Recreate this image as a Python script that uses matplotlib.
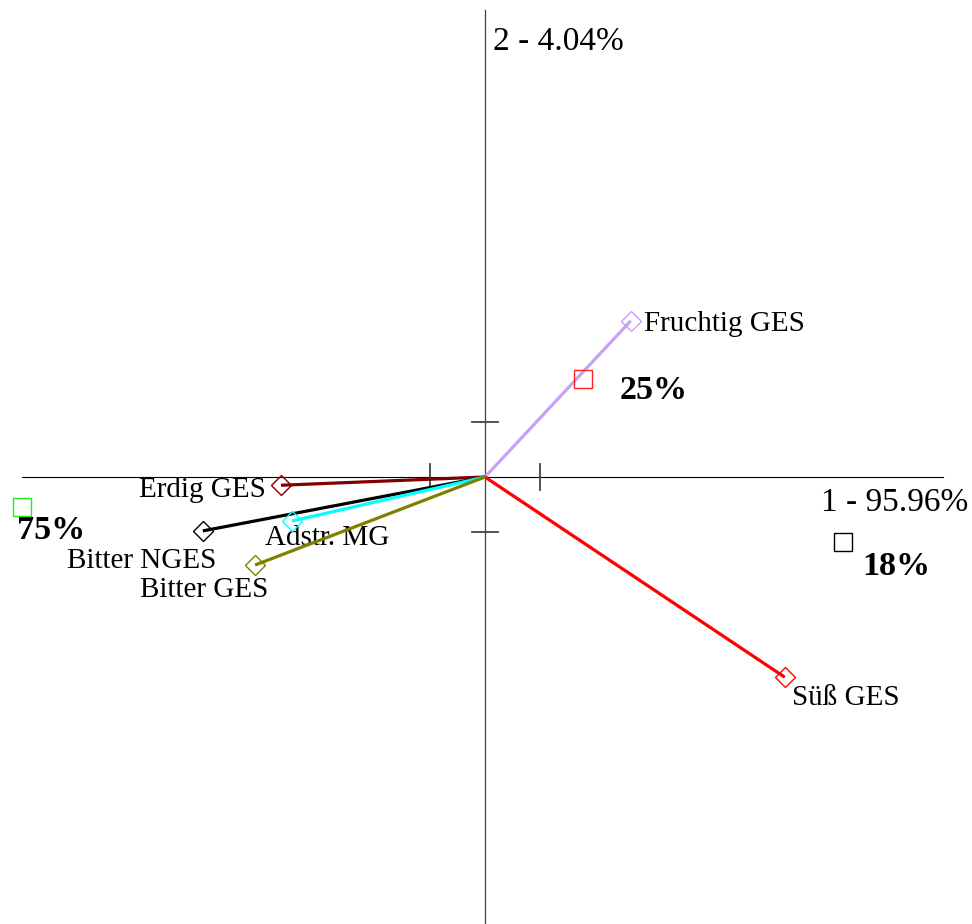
import numpy as np
import matplotlib.pyplot as plt

plt.rcParams['font.family'] = ['Liberation Serif', 'DejaVu Serif']

# loadings of the sensory attributes (unit = one tick)
var_names = ['Fruchtig GES', 'Süß GES', 'Erdig GES', 'Bitter NGES', 'Adstr. MG', 'Bitter GES']
var_x = [2.65, 5.45, -3.71, -5.13, -3.51, -4.18]
var_y = [2.84, -3.64, -0.15, -0.98, -0.80, -1.60]
var_colors = ['#c8a0f8', '#ff0000', '#800000', '#000000', '#00ffff', '#808000']

# group scores with their shares
grp_labels = ['75%', '25%', '18%']
grp_x = [-8.42, 1.78, 6.51]
grp_y = [-0.55, 1.78, -1.18]
grp_colors = ['#22ee22', '#ff2020', '#000000']

axis1_label = '1 - 95.96%'
axis2_label = '2 - 4.04%'

px = 55.0  # pixels per unit
ox, oy = 485, 477
W, H = 972, 924

fig = plt.figure(figsize=(W / 100, H / 100), dpi=100)
ax = fig.add_axes([0, 0, 1, 1])
ax.set_xlim(-ox / px, (W - ox) / px)
ax.set_ylim(-(H - oy) / px, oy / px)
ax.axis('off')

# axes through the origin
ax.plot([(22 - ox) / px, (943 - ox) / px], [0, 0], color='black', lw=0.8)
ax.plot([0, 0], [-(H - oy) / px, (oy - 10) / px], color='#444444', lw=0.9)
t = 13 / px
for v in (-1, 1):
    ax.plot([v, v], [-t, t], color='#444444', lw=1.3)
    ax.plot([-t, t], [v, v], color='#444444', lw=1.3)

ax.annotate(axis2_label, (0, oy / px), xytext=(8, -42), textcoords='offset pixels',
            ha='left', va='center', fontsize=24)
ax.annotate(axis1_label, ((W - ox) / px, 0), xytext=(-4, -26), textcoords='offset pixels',
            ha='right', va='center', fontsize=24)

# attribute vectors
label_pos = {
    'Fruchtig GES': ((13, -3), 'left'),
    'Süß GES': ((7, -21), 'left'),
    'Erdig GES': ((-15, -5), 'right'),
    'Bitter NGES': ((-61, -30), 'center'),
    'Adstr. MG': ((-27, -17), 'left'),
    'Bitter GES': ((-51, -25), 'center'),
}
for name, x, y, c in zip(var_names, var_x, var_y, var_colors):
    ax.plot([0, x], [0, y], color=c, lw=2.3, solid_capstyle='butt', zorder=3)
    ax.plot(x, y, marker='D', ms=10, mfc='none', mec=c, mew=1.0, zorder=4)
    off, ha = label_pos[name]
    ax.annotate(name, (x, y), xytext=off, textcoords='offset pixels',
                ha=ha, va='center', fontsize=21)

# group squares
pct_pos = [(-5, -23), (37, -11), (19, -25)]
for lab, x, y, c, off in zip(grp_labels, grp_x, grp_y, grp_colors, pct_pos):
    ax.plot(x, y, marker='s', ms=13.5, mfc='none', mec=c, mew=1.0, zorder=5)
    ax.annotate(lab, (x, y), xytext=off, textcoords='offset pixels',
                ha='left', va='center', fontsize=24.5, fontweight='bold')

fig.savefig('out.png', dpi=100)
